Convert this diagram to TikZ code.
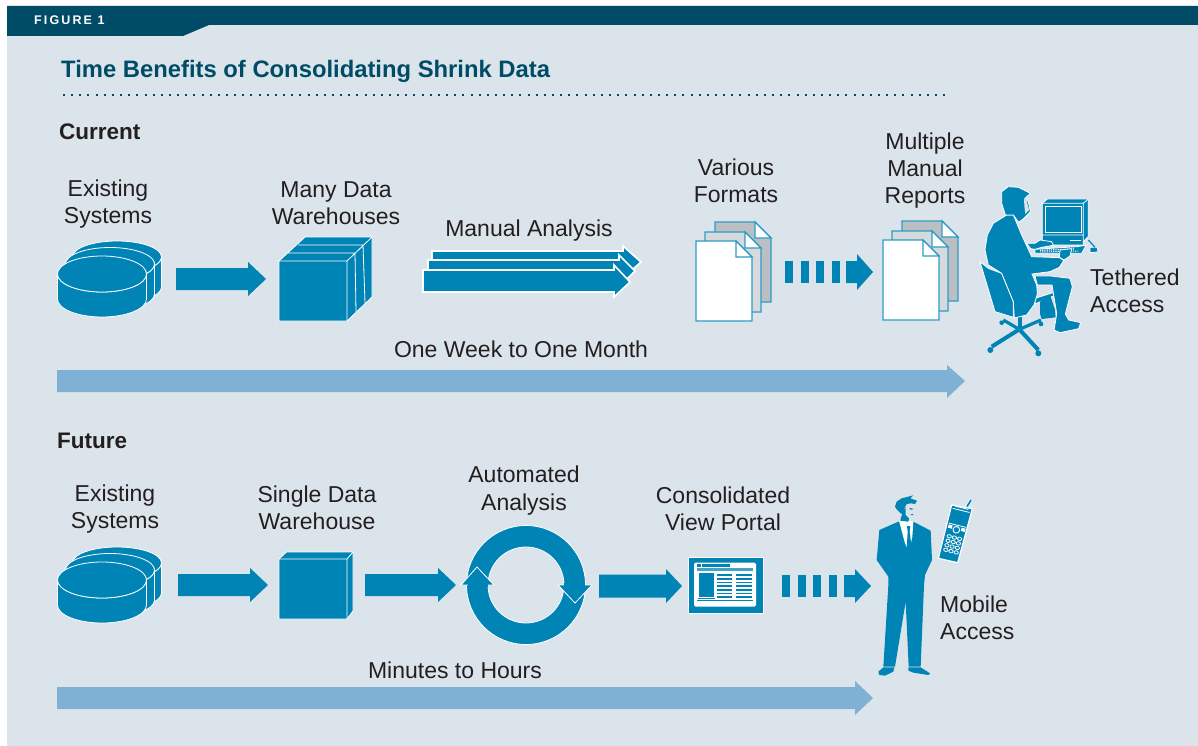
\documentclass[tikz,border=0pt]{standalone}
\usepackage{fontspec}
\setmainfont{Liberation Sans}
\newfontfamily\figfont[LetterSpace=17]{Liberation Sans}
\definecolor{panelbg}{HTML}{DCE4EB}
\definecolor{barteal}{HTML}{004B66}
\definecolor{iconblue}{HTML}{0084B6}
\definecolor{timeblue}{HTML}{7EB1D4}
\definecolor{ink}{HTML}{231F20}
\definecolor{pageline}{HTML}{2C9CC6}
\definecolor{pagegrayA}{HTML}{BBBFC3}
\definecolor{pagegrayB}{HTML}{D6DADD}
\tikzset{
  label/.style={font=\fontsize{23}{27}\selectfont,text=ink,align=center,inner sep=0pt},
  sidelabel/.style={font=\fontsize{23}{27}\selectfont,text=ink,align=left,inner sep=0pt,anchor=west},
  headlabel/.style={font=\fontsize{22.5}{26}\selectfont\bfseries,text=ink,anchor=base west,inner sep=0pt},
  ico/.style={fill=iconblue,draw=white,line width=0.8pt,line join=miter},
  icothick/.style={fill=iconblue,draw=white,line width=1.6pt,line join=miter},
  plain/.style={fill=iconblue,draw=none},
  wht/.style={fill=white,draw=none},
  bgf/.style={fill=panelbg,draw=none},
  wline/.style={draw=white,line width=0.8pt},
}
\newcommand\blockarrow[7][plain]{\path[#1] (#2,#3-#6) -- (#4,#3-#6) -- (#4,#3-#7) -- (#5,#3) -- (#4,#3+#7) -- (#4,#3+#6) -- (#2,#3+#6) -- cycle;}
\newcommand\drum[5]{% cx, centre y, rx, ry, h
  \path[ico] (#1-#3,#2) -- (#1-#3,#2+#5) arc[start angle=180,end angle=0,x radius=#3,y radius=#4] -- (#1+#3,#2) arc[start angle=0,end angle=180,x radius=#3,y radius=#4] -- cycle;
  \path[ico] (#1,#2) ellipse[x radius=#3,y radius=#4];}
\newcommand\drumstack{\drum{117}{257}{44.5}{16}{30}\drum{110}{264}{44.5}{16.5}{30}\drum{102}{274}{44.5}{18}{25}}
\newcommand\pagesheet[6]{% x, y, w, h, fold, fill
  \path[fill=#6,draw=pageline,line width=1.1pt] (#1,#2) -- (#1+#3-#5,#2) -- (#1+#3,#2+#5) -- (#1+#3,#2+#4) -- (#1,#2+#4) -- cycle;
  \path[fill=white,draw=pageline,line width=1.1pt] (#1+#3-#5,#2) -- (#1+#3-#5,#2+#5) -- (#1+#3,#2+#5) -- cycle;}
\newcommand\pagestack[2]{\pagesheet{#1+19}{#2-19}{56}{80}{16}{pagegrayA}\pagesheet{#1+9}{#2-9}{56}{80}{16}{pagegrayB}\pagesheet{#1}{#2}{56}{80}{16}{white}}
\newcommand\dashbars[2]{\foreach \k in {0,1,2,3}{\path[plain] (#1+15.7*\k,#2-11) rectangle +(8,22);}}
\begin{document}
\begin{tikzpicture}[x=1pt,y=1pt,yscale=-1]
\useasboundingbox (0,0) rectangle (1198,746);
\path[fill=white] (0,0) rectangle (1198,746);
\path[fill=panelbg] (7,6) rectangle (1198,746);
\path[fill=barteal] (7,6) -- (1198,6) -- (1198,25) -- (209,25) -- (183,36) -- (7,36) -- cycle;
\node[anchor=base west,inner sep=0pt,text=white,font=\fontsize{12.5}{13}\selectfont\figfont\bfseries] (figtag) at (34,25) {FIGURE 1};
\node[anchor=base west,inner sep=0pt,text=barteal,font=\fontsize{23.8}{26}\selectfont\bfseries] (title) at (61,78) {Time Benefits of Consolidating Shrink Data};
\draw[barteal,line width=2pt,dash pattern=on 2pt off 6.15pt] (63,95) -- (948,95);
\node[headlabel] (current) at (59,140) {Current};
\node[headlabel] (future) at (57,448) {Future};
%% ---------- current row
\node[label] (ex1) at (108,204) {Existing\\Systems};
\drumstack
\blockarrow{176}{279}{248}{266}{11}{17}
\node[label] (many) at (336,203) {Many Data\\Warehouses};
\path[ico] (279,261) -- (305,237) -- (372,237) -- (372,297) -- (347,321) -- (279,321) -- cycle;
\draw[wline] (288,253) -- (355,253) -- (356,312) (298,245) -- (363,245) -- (365,303) (279,261) -- (347,261) -- (347,321) (347,261) -- (372,237);
\node[label] (manual) at (529,231) {Manual Analysis};
\path[icothick] (432,251) -- (623,251) -- (623,246) -- (641,262) -- (623,278) -- (623,262) -- (432,262) -- cycle;
\path[icothick] (428,260) -- (619,260) -- (619,255) -- (635,271) -- (619,287) -- (619,272) -- (428,272) -- cycle;
\path[icothick] (423,270) -- (614,270) -- (614,265) -- (630,282) -- (614,297) -- (614,292) -- (423,292) -- cycle;
\node[label] (various) at (736,181) {Various\\Formats};
\pagestack{696}{241}
\dashbars{785}{272}
\blockarrow{846}{272}{857}{873}{11}{18}
\node[label] (multi) at (925,170.5) {Multiple\\Manual\\Reports};
\pagestack{883}{240}
\node[sidelabel] (teth) at (1090,291) {Tethered\\Access};
\node[label] (week) at (521,349) {One Week to One Month};
\path[fill=timeblue] (57,370) -- (947,370) -- (947,365) -- (965,381) -- (947,398) -- (947,392) -- (57,392) -- cycle;
%% seated user
\begin{scope}[shift={(960,170)},scale=1/3]
  % chair
  \path[ico] (60,275) -- (85,295) -- (125,310) -- (160,395) -- (160,442) -- (105,425) -- cycle;
  \path[plain] (173,440) -- (186,440) -- (186,480) -- (173,480) -- cycle;
  \draw[iconblue,line width=4pt] (178,478) -- (95,530);
  \draw[iconblue,line width=4pt] (178,478) -- (235,540);
  \draw[iconblue,line width=3.2pt] (178,478) -- (130,450);
  \draw[iconblue,line width=3.2pt] (178,478) -- (243,450);
  \fill[iconblue] (91,540) circle (9) (235,550) circle (9) (125,458) circle (7) (243,462) circle (7);
  \path[ico] (225,385) -- (282,367) -- (285,376) -- (225,402) -- cycle;
  % rear leg and shoe
  \path[plain] (240,395) -- (270,375) -- (285,420) -- (287,442) -- (245,447) -- (240,432) -- cycle;
  % front leg and shoe
  \path[ico] (225,318) -- (272,318) -- (330,325) -- (337,350) -- (316,432) -- (326,450) -- (362,458) -- (356,476) -- (300,488) -- (282,480) -- (287,452) -- (290,430) -- (276,345) -- (232,345) -- cycle;
  % torso
  \path[ico] (140,135) -- (160,135) -- (185,195) -- (215,260) -- (300,263) -- (311,272) -- (298,292) -- (270,305) -- (216,312) -- (230,345) -- (232,372) -- (222,405) -- (200,435) -- (163,444) -- (160,395) -- (125,310) -- (85,285) -- (75,240) -- (82,195) -- (100,160) -- cycle;
  % head
  \path[ico] (125,65) -- (145,50) -- (175,52) -- (211,70) -- (196,84) -- (205,95) -- (211,125) -- (192,145) -- (176,157) -- (160,135) -- (136,135) -- (125,100) -- cycle;
  \path[bgf] (192,84) -- (200,92) -- (207,120) -- (196,132) -- (193,108) -- cycle;
  % monitor
  \path[ico] (247,100) -- (262,87) -- (385,87) -- (385,200) -- (370,215) -- (370,225) -- (247,225) -- cycle;
  \draw[wline] (247,100) -- (370,100) -- (385,87) (370,100) -- (370,215) (247,195) -- (370,195);
  \path[fill=iconblue,draw=white,line width=0.9pt] (255,110) rectangle (363,188);
  \draw[white,line width=1pt] (330,212) -- (363,212);
  % keyboard
  \path[ico] (225,238) -- (350,230) -- (378,226) -- (365,250) -- (225,250) -- cycle;
  \draw[white,line width=1.2pt,dash pattern=on 1.2pt off 1pt] (240,241) -- (345,237);
  \draw[white,line width=0.9pt,dash pattern=on 1.2pt off 1pt] (240,246) -- (355,243);
  % hands
  \path[ico] (200,220) -- (225,220) -- (240,210) -- (275,215) -- (280,226) -- (245,232) -- (225,238) -- (212,236) -- cycle;
  \path[ico] (300,240) -- (335,236) -- (330,258) -- (312,270) -- (298,262) -- cycle;
  % mouse
  \path[ico] (390,232) -- (412,232) -- (414,246) -- (390,248) -- cycle;
  \draw[iconblue,line width=1.2pt] (385,210) -- (405,232);
\end{scope}
%% ---------- future row
\node[label] (ex2) at (115,509) {Existing\\Systems};
\begin{scope}[shift={(0,306)}]\drumstack\end{scope}
\blockarrow{178}{585}{250}{268}{11}{17}
\node[label] (single) at (317,507.5) {Single Data\\Warehouse};
\path[ico] (279,559) -- (286.5,552) -- (353,552) -- (353,611) -- (347,619) -- (279,619) -- cycle;
\draw[wline] (279,559) -- (347,559) -- (347,619) (347,559) -- (353,552);
\blockarrow{365}{585}{438}{456}{11}{17}
\node[label] (auto) at (524,490.5) {Automated\\[1pt]Analysis};
\path[fill=iconblue,draw=white,line width=0.8pt,even odd rule] (526,585) circle (59.5) (526,585) circle (38);
\path[ico] (461,585) -- (477,567) -- (494,585) -- cycle;
\path[plain] (467.8,583) rectangle (487.6,587);
\path[ico] (558,585) -- (592,585) -- (575,603) -- cycle;
\path[plain] (564.4,583) rectangle (584.8,587);
\blockarrow{599}{586}{666}{682}{11.5}{17}
\node[label] (view) at (723,508.5) {Consolidated\\View Portal};
\path[fill=iconblue,draw=white,line width=0.5pt] (688,557) rectangle (763,613);
\begin{scope}[shift={(450,510)},scale=1/3]
  \path[wht,rounded corners=1.5pt] (732,158) rectangle (918,290);
  \path[plain] (740,162) rectangle (752,172);
  \path[plain] (756,162) rectangle (840,172);
  \path[fill=iconblue!75!white] (740,174) rectangle (910,182);
  \path[plain] (746,190) rectangle (792,262);
  \path[plain] (745,264) rectangle (795,267);
  \foreach \yy in {193,204,215,226,237,248,259}{
    \path[plain] (802,\yy) rectangle (846,\yy+5);
    \path[plain] (858,\yy) rectangle (906,\yy+5);}
  \path[plain] (740,270) rectangle (910,274);
\end{scope}
\dashbars{782}{586}
\blockarrow{844}{586}{855}{871}{11}{17}
\node[sidelabel] (mob) at (940,618) {Mobile\\Access};
\node[label] (mins) at (455,670) {Minutes to Hours};
\path[fill=timeblue] (57,687) -- (855,687) -- (855,681) -- (873,698) -- (855,715) -- (855,709) -- (57,709) -- cycle;
%% standing user
\begin{scope}[shift={(860,480)},scale=1/3]
  \path[plain] (58,150) -- (115,125) -- (160,125) -- (212,152) -- (216,240) -- (195,285) -- (192,316) -- (182,560) -- (146,560) -- (137,365) -- (105,560) -- (70,560) -- (85,316) -- (85,290) -- (50,240) -- cycle;
  \path[wht] (117,122) -- (132,120) -- (160,124) -- (157,170) -- (147,215) -- (135,190) -- cycle;
  \path[plain] (141,138) -- (151,138) -- (149,155) -- (155,205) -- (147,220) -- (140,205) -- (143,155) -- cycle;
  \path[plain] (55,575) -- (70,562) -- (103,562) -- (100,575) -- (75,587) -- (58,585) -- cycle;
  \path[plain] (145,562) -- (182,562) -- (210,580) -- (205,585) -- (160,578) -- (145,572) -- cycle;
\end{scope}
\begin{scope}[shift={(885,490)},scale=1/3]
  \path[plain] (30,50) -- (35,35) -- (50,25) -- (85,16) -- (76,25) -- (96,32) -- (90,42) -- (78,40) -- (65,42) -- (58,55) -- (55,75) -- (45,68) -- (35,58) -- cycle;
  \path[plain] (55,65) -- (62,50) -- (62,75) -- (72,85) -- (70,95) -- (46,92) -- (48,82) -- cycle;
  \path[plain] (74,54) -- (84,56) -- (82,59) -- (74,58) -- cycle;
  \path[plain] (76,72) -- (86,72) -- (82,76) -- cycle;
  % phone
  \draw[white,line width=3pt] (246,50) -- (258,30);
  \draw[iconblue,line width=1.7pt] (246,50) -- (258,30);
  \path[fill=iconblue,draw=white,line width=1.2pt,line join=round] (200,45) -- (262,56) -- (218,218) -- (160,205) -- cycle;
  \begin{scope}[shift={(211,131)},rotate=14]
    \draw[white,line width=0.8pt] (-26,-72) -- (26,-72) (-26,-26) -- (26,-26);
    \draw[white,line width=0.8pt] (-20,-80) -- (20,-80);
    \fill[white] (-26,-22) rectangle (-14,-12) (14,-22) rectangle (26,-12);
    \draw[white,line width=0.9pt] (0,-12) circle (10);
    \foreach \r in {0,1,2,3}{\foreach \c in {-1,0,1}{\draw[white,line width=0.8pt] (\c*16,12+\r*14) ellipse[x radius=6.5,y radius=5];}}
  \end{scope}
\end{scope}
\end{tikzpicture}
\end{document}
